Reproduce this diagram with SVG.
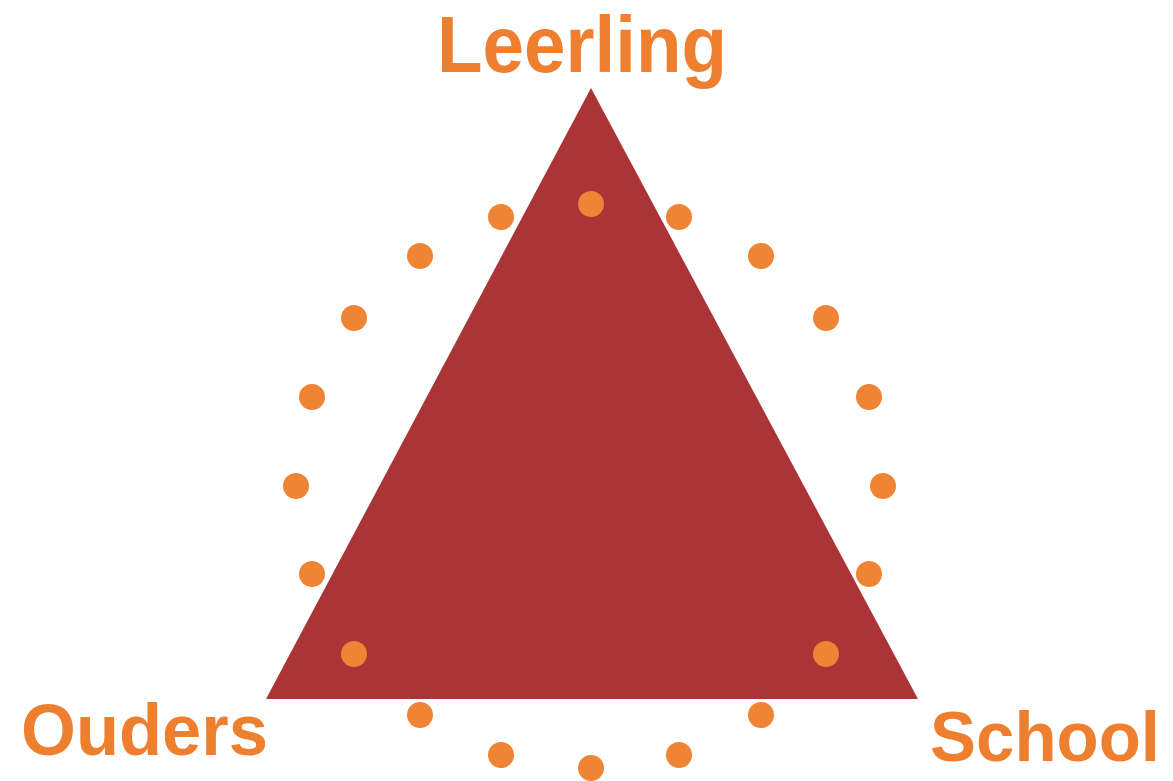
<svg xmlns="http://www.w3.org/2000/svg" width="1173" height="781" viewBox="0 0 1173 781">
<style>
.lbl{font-family:"Liberation Sans",Arial,sans-serif;font-weight:bold;fill:#EE7F2E}
.dot{fill:#EE8434}
</style>
<rect width="1173" height="781" fill="#FFFFFF"/>
<g id="triangle"><polygon points="591,88 266,699 918,699" fill="#AA3436"/></g>
<g id="dots">
<circle class="dot" cx="591" cy="204" r="13"/>
<circle class="dot" cx="501" cy="217" r="13"/>
<circle class="dot" cx="679" cy="217" r="13"/>
<circle class="dot" cx="420" cy="256" r="13"/>
<circle class="dot" cx="761" cy="256" r="13"/>
<circle class="dot" cx="354" cy="318" r="13"/>
<circle class="dot" cx="826" cy="318" r="13"/>
<circle class="dot" cx="312" cy="397" r="13"/>
<circle class="dot" cx="869" cy="397" r="13"/>
<circle class="dot" cx="296" cy="486" r="13"/>
<circle class="dot" cx="883" cy="486" r="13"/>
<circle class="dot" cx="312" cy="574" r="13"/>
<circle class="dot" cx="869" cy="574" r="13"/>
<circle class="dot" cx="354" cy="654" r="13"/>
<circle class="dot" cx="826" cy="654" r="13"/>
<circle class="dot" cx="420" cy="715" r="13"/>
<circle class="dot" cx="761" cy="715" r="13"/>
<circle class="dot" cx="501" cy="755" r="13"/>
<circle class="dot" cx="679" cy="755" r="13"/>
<circle class="dot" cx="591" cy="768" r="13"/>
</g>
<g id="leerling"><text class="lbl" x="437" y="72" font-size="79" textLength="290" lengthAdjust="spacingAndGlyphs">Leerling</text></g>
<g id="ouders"><text class="lbl" x="21" y="755" font-size="72" textLength="247" lengthAdjust="spacingAndGlyphs">Ouders</text></g>
<g id="school"><text class="lbl" x="930" y="761" font-size="70" textLength="230" lengthAdjust="spacingAndGlyphs">School</text></g>
</svg>
